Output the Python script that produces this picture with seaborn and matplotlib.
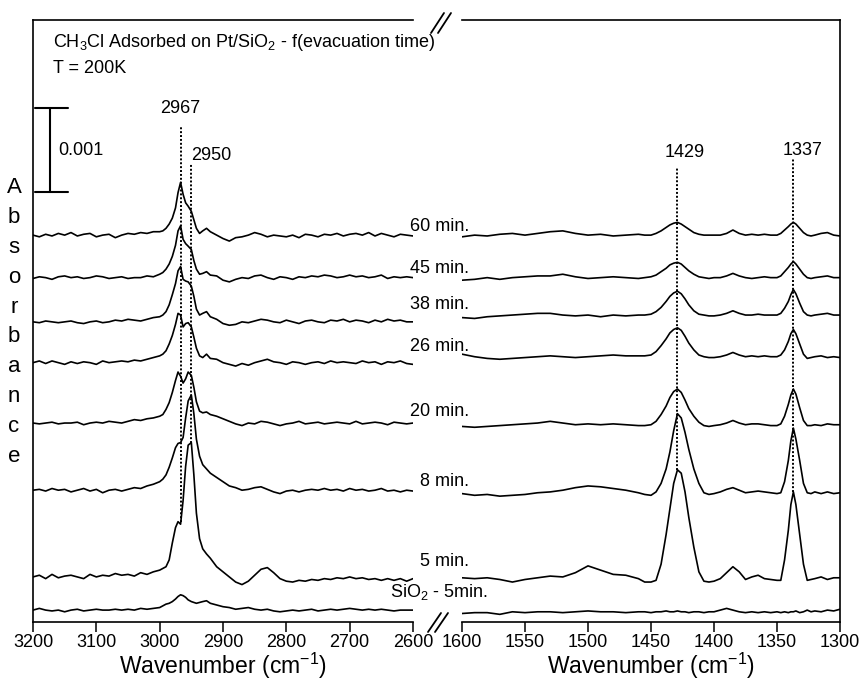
import numpy as np
import pandas as pd
import matplotlib
matplotlib.use("Agg")
import matplotlib.pyplot as plt
import seaborn as sns
from matplotlib.lines import Line2D

# ---------- DATA (absorbance in units of 0.001, relative to each trace's baseline) ----------
TRACES = ["60 min.", "45 min.", "38 min.", "26 min.", "20 min.", "8 min.", "5 min.", "SiO2"]
OFFSETS = [4.55, 4.05, 3.53, 3.05, 2.34, 1.55, 0.53, 0.14]   # stacking offsets
LABEL_Y = [4.65, 4.16, 3.73, 3.24, 2.47, 1.65, 0.71, 0.35]

LEFT_WN = (list(range(3200, 2999, -10))
           + [2995, 2990, 2985, 2980, 2975, 2971, 2967, 2963, 2959, 2955, 2950, 2946, 2942, 2937, 2932, 2926, 2920]
           + list(range(2910, 2599, -10)))
RIGHT_WN = (list(range(1600, 1459, -10))
            + [1455, 1450, 1446, 1442, 1438, 1435, 1432, 1429, 1426, 1423, 1420, 1416, 1412, 1408, 1404]
            + [1400, 1395, 1390, 1385, 1380, 1375, 1370, 1365, 1360, 1355, 1350]
            + [1347, 1344, 1341, 1339, 1337, 1335, 1332, 1329, 1326, 1323]
            + [1320, 1315, 1310, 1305, 1300])

left_60 = [0.00, -0.02, 0.01, -0.01, 0.02, 0.00, 0.03, -0.01, 0.01, 0.02, -0.02, 0.00, 0.01, -0.03, 0.00, 0.02, 0.01, 0.03, 0.02, 0.04, 0.04,
           0.05, 0.08, 0.13, 0.20, 0.32, 0.50, 0.62, 0.48, 0.38, 0.34, 0.28, 0.18, 0.08, 0.02, 0.05, 0.08, 0.04,
           0.00, -0.04, -0.07, -0.03, -0.02, 0.00, 0.03, 0.01, -0.02, 0.00,
           -0.01, -0.02, 0.00, -0.03, 0.01, 0.00, -0.02, 0.01, 0.00, 0.02,
           -0.01, 0.01, 0.02, 0.00, 0.03, -0.01, 0.02, 0.00, -0.02, 0.01,
           0.00, -0.01]
left_45 = [-0.01, 0.01, 0.00, -0.02, 0.01, 0.02, 0.00, 0.01, -0.01, 0.00, 0.02, 0.01, -0.01, 0.00, 0.01, -0.01, 0.00, 0.00, 0.02, 0.01, 0.04,
           0.06, 0.10, 0.16, 0.25, 0.38, 0.55, 0.61, 0.45, 0.40, 0.37, 0.33, 0.20, 0.10, 0.04, 0.05, 0.07, 0.03,
           0.02, -0.03, -0.05, -0.02, 0.00, -0.01, 0.02, 0.03, 0.00, -0.02,
           0.01, 0.00, -0.02, 0.01, 0.00, 0.02, 0.01, 0.03, 0.02, 0.00,
           0.01, 0.03, 0.01, 0.02, 0.00, 0.01, 0.03, -0.01, 0.01, 0.00,
           0.01, 0.00]
left_38 = [0.00, -0.01, 0.01, 0.00, -0.01, 0.00, 0.01, -0.01, -0.02, 0.00, 0.01, -0.01, 0.00, 0.02, 0.01, 0.03, 0.02, 0.01, 0.03, 0.05, 0.06,
           0.08, 0.12, 0.20, 0.32, 0.45, 0.60, 0.65, 0.50, 0.48, 0.47, 0.42, 0.30, 0.15, 0.08, 0.10, 0.12, 0.06,
           0.03, -0.02, -0.04, -0.03, 0.00, -0.01, 0.01, 0.03, 0.02, 0.00,
           -0.01, 0.02, 0.00, -0.02, 0.01, 0.02, 0.00, -0.01, 0.02, 0.01,
           0.03, 0.00, 0.02, 0.01, -0.01, 0.02, 0.00, 0.03, 0.01, 0.02,
           0.00, 0.00]
left_26 = [0.00, 0.02, -0.01, 0.02, 0.00, -0.02, 0.01, -0.01, 0.01, 0.00, -0.02, 0.02, 0.00, 0.01, 0.02, 0.01, 0.03, 0.02, 0.04, 0.06, 0.08,
           0.10, 0.14, 0.22, 0.32, 0.45, 0.58, 0.56, 0.42, 0.46, 0.47, 0.42, 0.30, 0.17, 0.08, 0.06, 0.10, 0.05,
           0.04, 0.00, -0.02, -0.04, -0.01, -0.03, 0.00, 0.02, 0.04, 0.01,
           0.00, -0.02, 0.01, 0.00, -0.02, 0.00, 0.01, -0.01, 0.02, 0.00,
           0.01, 0.00, -0.01, 0.02, 0.00, 0.01, -0.02, 0.01, 0.00, 0.02,
           -0.01, -0.02]
left_20 = [0.00, -0.01, 0.00, 0.01, -0.01, 0.00, 0.00, 0.01, -0.02, 0.00, 0.01, 0.00, 0.02, 0.01, 0.00, 0.02, 0.04, 0.03, 0.05, 0.06, 0.08,
           0.10, 0.16, 0.24, 0.36, 0.50, 0.60, 0.55, 0.47, 0.52, 0.60, 0.56, 0.42, 0.25, 0.14, 0.12, 0.13, 0.10,
           0.08, 0.05, 0.02, -0.01, -0.03, 0.00, -0.01, 0.02, 0.01, -0.01,
           -0.03, -0.01, 0.00, 0.02, -0.01, 0.00, 0.01, -0.01, 0.00, 0.01,
           0.00, -0.01, 0.02, -0.01, 0.00, 0.01, 0.00, -0.02, 0.01, 0.00,
           -0.01, 0.00]
left_8 = [0.00, 0.01, -0.01, 0.02, 0.00, 0.01, -0.02, 0.00, 0.02, -0.01, 0.01, -0.03, 0.00, 0.01, -0.01, 0.01, 0.03, 0.02, 0.05, 0.07, 0.10,
          0.13, 0.18, 0.27, 0.38, 0.50, 0.55, 0.56, 0.62, 0.85, 1.05, 1.12, 0.90, 0.60, 0.40, 0.30, 0.25, 0.20,
          0.15, 0.10, 0.05, 0.03, 0.00, 0.01, 0.03, 0.04, 0.01, -0.02,
          -0.04, -0.01, 0.00, -0.02, 0.00, 0.01, 0.00, 0.02, 0.00, 0.01,
          -0.01, 0.02, 0.00, 0.01, -0.01, 0.00, 0.02, -0.01, 0.00, -0.02,
          0.00, -0.01]
left_5 = [0.00, 0.02, -0.02, 0.03, -0.01, 0.01, 0.02, 0.00, -0.02, 0.03, 0.00, 0.02, 0.01, 0.04, 0.02, 0.03, 0.01, 0.05, 0.03, 0.06, 0.08,
          0.10, 0.12, 0.20, 0.40, 0.58, 0.65, 0.62, 0.90, 1.30, 1.55, 1.58, 1.20, 0.75, 0.45, 0.33, 0.27, 0.22,
          0.12, 0.06, 0.00, -0.06, -0.09, -0.05, 0.02, 0.09, 0.11, 0.05,
          -0.02, -0.05, -0.06, -0.04, -0.05, -0.03, -0.04, -0.02, -0.03, -0.01,
          -0.02, 0.00, -0.02, -0.01, -0.03, -0.02, -0.04, -0.02, -0.04, -0.02,
          -0.05, -0.02]
left_si = [0.00, 0.02, 0.00, -0.01, 0.00, -0.02, 0.00, 0.01, -0.01, 0.00, 0.01, 0.00, 0.00, 0.01, 0.00, 0.01, 0.00, 0.02, 0.01, 0.02, 0.03,
           0.05, 0.07, 0.08, 0.10, 0.13, 0.16, 0.18, 0.17, 0.15, 0.12, 0.10, 0.09, 0.08, 0.09, 0.10, 0.11, 0.08,
           0.06, 0.04, 0.03, 0.01, 0.02, 0.03, 0.01, 0.00, 0.01, -0.01,
           -0.02, -0.01, 0.00, -0.01, 0.00, 0.01, -0.01, 0.00, 0.01, 0.00,
           0.01, 0.02, 0.01, 0.00, 0.01, 0.00, 0.01, 0.00, -0.01, 0.00,
           0.00, 0.00]

right_60 = [-0.02, 0.00, -0.01, 0.01, 0.02, 0.00, 0.02, 0.04, 0.05, 0.02, 0.00, 0.01, -0.01, 0.00, 0.01,
            0.00, 0.00, 0.02, 0.05, 0.09, 0.12, 0.14, 0.15, 0.13, 0.10, 0.07, 0.03, 0.01, 0.00, 0.00,
            0.00, 0.00, 0.02, 0.06, 0.02, 0.00, 0.01, 0.00, 0.01, 0.00, 0.00,
            0.02, 0.06, 0.10, 0.13, 0.15, 0.13, 0.08, 0.03, 0.00, -0.01,
            0.00, 0.02, 0.03, 0.00, -0.01]
right_45 = [-0.03, -0.02, 0.00, -0.02, 0.00, 0.01, 0.02, 0.02, 0.04, 0.01, -0.01, 0.00, 0.01, 0.00, -0.01,
            0.00, 0.01, 0.03, 0.07, 0.11, 0.15, 0.17, 0.18, 0.16, 0.12, 0.08, 0.04, 0.01, 0.00, -0.01,
            0.00, 0.00, 0.02, 0.05, 0.02, 0.00, -0.01, 0.00, 0.01, 0.00, 0.00,
            0.02, 0.07, 0.12, 0.16, 0.19, 0.16, 0.10, 0.04, 0.00, -0.01,
            0.00, 0.01, 0.02, 0.00, 0.00]
right_38 = [0.05, 0.04, 0.06, 0.07, 0.08, 0.09, 0.10, 0.10, 0.08, 0.07, 0.08, 0.06, 0.08, 0.07, 0.08,
            0.08, 0.09, 0.12, 0.17, 0.24, 0.30, 0.34, 0.36, 0.33, 0.27, 0.20, 0.13, 0.09, 0.08, 0.07,
            0.07, 0.08, 0.10, 0.13, 0.10, 0.08, 0.08, 0.09, 0.08, 0.08, 0.08,
            0.10, 0.16, 0.24, 0.32, 0.38, 0.33, 0.22, 0.12, 0.08, 0.07,
            0.08, 0.09, 0.10, 0.08, 0.08]
right_26 = [0.10, 0.07, 0.05, 0.04, 0.05, 0.06, 0.07, 0.08, 0.07, 0.06, 0.07, 0.08, 0.09, 0.08, 0.08,
            0.08, 0.09, 0.13, 0.20, 0.28, 0.35, 0.39, 0.41, 0.38, 0.31, 0.23, 0.15, 0.09, 0.07, 0.06,
            0.06, 0.07, 0.09, 0.12, 0.09, 0.07, 0.08, 0.07, 0.08, 0.07, 0.07,
            0.09, 0.15, 0.25, 0.34, 0.39, 0.34, 0.22, 0.10, 0.05, 0.06,
            0.07, 0.08, 0.06, 0.07, 0.06]
right_20 = [-0.04, -0.05, -0.04, -0.03, -0.02, -0.01, 0.00, 0.02, 0.00, -0.02, -0.01, -0.02, -0.01, -0.02, -0.03,
            -0.03, -0.02, 0.02, 0.10, 0.20, 0.30, 0.37, 0.40, 0.36, 0.27, 0.17, 0.08, 0.01, -0.03, -0.04,
            -0.03, -0.02, 0.00, 0.03, 0.00, -0.02, -0.01, -0.01, -0.02, -0.03, -0.03,
            -0.01, 0.08, 0.22, 0.33, 0.40, 0.34, 0.18, 0.03, -0.03, -0.03,
            -0.02, -0.03, -0.01, -0.02, -0.02]
right_8 = [-0.04, -0.06, -0.05, -0.07, -0.06, -0.05, -0.03, -0.02, 0.00, 0.03, 0.05, 0.04, 0.02, 0.00, -0.03,
           -0.05, -0.06, -0.02, 0.08, 0.25, 0.45, 0.70, 0.90, 0.85, 0.68, 0.48, 0.25, 0.08, -0.03, -0.05,
           -0.04, -0.02, 0.01, 0.03, 0.00, -0.03, -0.02, -0.01, -0.02, -0.03, -0.04,
           -0.03, 0.10, 0.35, 0.58, 0.73, 0.60, 0.35, 0.08, -0.03, -0.04,
           -0.02, -0.04, -0.02, -0.04, -0.03]
right_5 = [-0.01, -0.02, -0.01, -0.03, -0.06, -0.03, -0.01, 0.01, 0.00, 0.05, 0.13, 0.08, 0.03, 0.02, -0.02,
           -0.06, -0.06, -0.04, 0.15, 0.50, 0.80, 1.10, 1.26, 1.22, 1.00, 0.70, 0.35, 0.06, -0.05, -0.06,
           -0.05, -0.02, 0.05, 0.12, 0.06, -0.03, 0.00, 0.02, -0.02, -0.03, -0.04,
           -0.04, 0.20, 0.55, 0.85, 1.00, 0.85, 0.50, 0.15, -0.04, -0.03,
           -0.02, 0.00, -0.03, -0.01, -0.01]
right_si = [-0.04, -0.03, -0.03, -0.05, -0.02, -0.03, -0.02, -0.02, -0.03, -0.02, -0.01, -0.02, -0.02, -0.03, -0.02,
            -0.02, -0.03, -0.02, -0.02, -0.01, -0.02, -0.02, -0.01, -0.02, -0.02, -0.03, -0.02, -0.02, -0.03, -0.02,
            -0.02, 0.00, 0.02, 0.00, -0.02, -0.03, -0.02, -0.03, -0.02, -0.03, -0.02,
            -0.03, -0.02, -0.03, -0.02, -0.02, -0.01, -0.03, -0.02, 0.00, -0.02,
            -0.01, -0.02, 0.00, -0.01, 0.01]

LEFT_VALS = [left_60, left_45, left_38, left_26, left_20, left_8, left_5, left_si]
RIGHT_VALS = [right_60, right_45, right_38, right_26, right_20, right_8, right_5, right_si]

LEFT_TICKS = [3200, 3100, 3000, 2900, 2800, 2700, 2600]
RIGHT_TICKS = [1600, 1550, 1500, 1450, 1400, 1350, 1300]


def long_form(wn, vals):
    frames = []
    for name, off, v in zip(TRACES, OFFSETS, vals):
        frames.append(pd.DataFrame({"wn": wn, "absorbance": np.array(v) + off, "trace": name}))
    return pd.concat(frames, ignore_index=True)


left_df = long_form(LEFT_WN, LEFT_VALS)
right_df = long_form(RIGHT_WN, RIGHT_VALS)

# ---------- STYLE ----------
sns.set_style("white")
plt.rcParams["font.family"] = ["Liberation Sans", "DejaVu Sans"]
plt.rcParams["mathtext.default"] = "regular"
for key in ["axes.edgecolor", "text.color", "axes.labelcolor", "xtick.color", "ytick.color"]:
    plt.rcParams[key] = "black"

W, H = 866, 681
fig = plt.figure(figsize=(W / 100, H / 100), dpi=100)
axL = fig.add_axes([33 / W, 1 - 622 / H, 380 / W, 602 / H])
axR = fig.add_axes([462 / W, 1 - 622 / H, 378 / W, 602 / H], sharey=axL)

for ax, df in [(axL, left_df), (axR, right_df)]:
    sns.lineplot(data=df, x="wn", y="absorbance", units="trace", estimator=None,
                 color="black", lw=1.2, ax=ax, legend=False)
    ax.patch.set_visible(False)

axL.set_xlim(3200, 2600)
axR.set_xlim(1600, 1300)
axL.set_ylim(0, 7.08)

for ax, ticks in [(axL, LEFT_TICKS), (axR, RIGHT_TICKS)]:
    ax.set_xticks(ticks)
    ax.set_yticks([])
    ax.tick_params(axis="x", direction="out", length=7, width=1.1, labelsize=13, pad=1.5,
                   colors="black", bottom=True)
    ax.set_xlabel("Wavenumber (cm$^{-1}$)", fontsize=16.5, labelpad=0)
    ax.set_ylabel("")
    for s in ax.spines.values():
        s.set_linewidth(1.2)
axL.spines["right"].set_visible(False)
axR.spines["left"].set_visible(False)

# dotted peak markers (top end, bottom end at 5 min. trace)
dots = (0, (1, 1))
axL.vlines(2967, 1.18, 5.82, colors="black", linestyles=dots, lw=1.4)
axL.vlines(2950, 2.11, 5.40, colors="black", linestyles=dots, lw=1.4)
axR.vlines(1429, 1.79, 5.35, colors="black", linestyles=dots, lw=1.4)
axR.vlines(1337, 1.53, 5.44, colors="black", linestyles=dots, lw=1.4)

axL.text(2967, 6.04, "2967", ha="center", va="center", fontsize=13)
axL.text(2951, 5.49, "2950", ha="left", va="center", fontsize=13)
axR.text(1423, 5.52, "1429", ha="center", va="center", fontsize=13)
axR.text(1330, 5.55, "1337", ha="center", va="center", fontsize=13)

# scale bar = 0.001 absorbance
axL.plot([3173, 3173], [5.06, 6.05], color="black", lw=1.5)
axL.plot([3197, 3145], [6.05, 6.05], color="black", lw=1.5)
axL.plot([3197, 3145], [5.06, 5.06], color="black", lw=1.5)
axL.text(3160, 5.55, "0.001", ha="left", va="center", fontsize=13)

# trace labels in the gap between panels
tr = axL.get_yaxis_transform()
for name, y in zip(TRACES[:-1], LABEL_Y[:-1]):
    axL.text(1.147, y, name, transform=tr, ha="right", va="center", fontsize=13,
             clip_on=False, zorder=5)
axL.text(1.068, LABEL_Y[-1], "SiO$_2$ - 5min.", transform=tr, ha="center", va="center",
         fontsize=13, clip_on=False, zorder=5)

fig.text(53 / W, 1 - 47 / H, "CH$_3$Cl Adsorbed on Pt/SiO$_2$ - f(evacuation time)",
         ha="left", va="baseline", fontsize=13)
fig.text(53 / W, 1 - 73 / H, "T = 200K", ha="left", va="baseline", fontsize=13)
fig.text(14 / W, 1 - 322 / H, "\n".join("Absorbance"), ha="center", va="center",
         fontsize=16, linespacing=1.55)

# axis break marks
for x0, y0, x1, y1 in [(431, 33, 444, 13), (438, 33, 451, 13),
                       (428, 632, 441, 613), (435, 632, 448, 613)]:
    fig.add_artist(Line2D([x0 / W, x1 / W], [1 - y0 / H, 1 - y1 / H],
                          transform=fig.transFigure, color="black", lw=1.3))

fig.savefig("out.png", dpi=100)
